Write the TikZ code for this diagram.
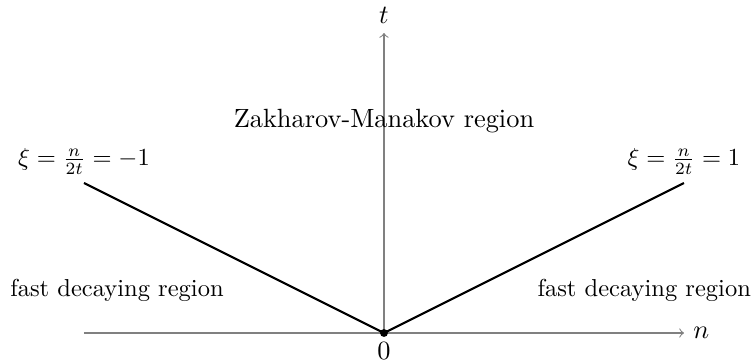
\documentclass[tikz,border=0pt]{standalone}
\begin{document}
\begin{tikzpicture}[lbl/.style={scale=0.93,transform shape}]
    \useasboundingbox (-5.12,-0.387) rectangle (4.947,4.44);
    \coordinate (O) at (0,0);
    \coordinate (nstart) at (-4,0);
    \coordinate (nend) at (4,0);
    \coordinate (tend) at (0,4);
    \coordinate (L) at (-4,2);
    \coordinate (R) at (4,2);
    \draw[gray,->] (nstart) -- (nend);
    \draw[gray,->] (O) -- (tend);
    \draw[thick] (L) -- (O) -- (R);
    \fill (O) circle (1.5pt);
    \node[right] (nlab) at (nend) {\(n\)};
    \node[above] (tlab) at (tend) {\(t\)};
    \node[below] (olab) at (O) {0};
    \node[above,lbl] (xileft) at (L) {\(\xi=\frac{n}{2t}=-1\)};
    \node[above,lbl] (xiright) at (R) {\(\xi=\frac{n}{2t}=1\)};
    \node (zm) at (0,2.83) {Zakharov-Manakov region};
    \node[lbl] (fastleft) at (-3.56,0.57) {fast decaying region};
    \node[lbl] (fastright) at (3.47,0.57) {fast decaying region};
  \end{tikzpicture}
\end{document}
